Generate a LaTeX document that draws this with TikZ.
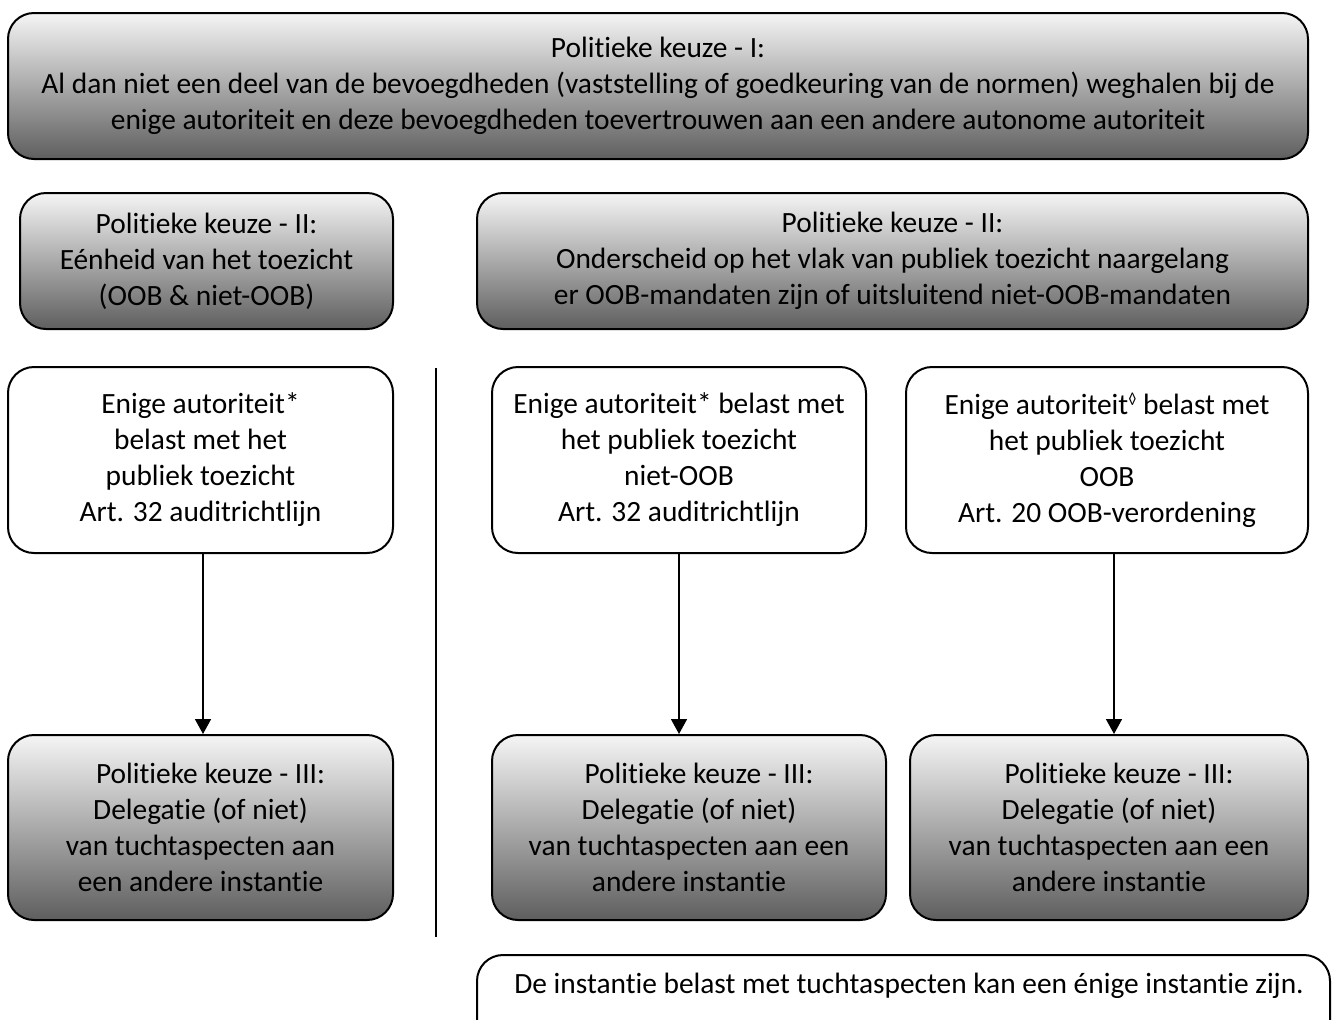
\documentclass[tikz,border=0pt]{standalone}
\usepackage{fontspec}
\setmainfont{Carlito}[Ligatures={NoCommon,NoContextual,NoRequired},Contextuals={NoAlternate},RawFeature={-liga;-clig;-calt}]
\usetikzlibrary{arrows.meta}
\begin{document}
\begin{tikzpicture}[x=0.5pt,y=-0.5pt,
  box/.style={draw=black, line width=1pt, rounded corners=13pt, align=center, inner sep=0pt,
    font=\fontsize{14.7}{18}\selectfont},
  graybox/.style={box, top color=white!96!black, bottom color=black!63},
  whitebox/.style={box, fill=white},
  conn/.style={-{Triangle[width=8pt,length=7.5pt]}, line width=0.8pt}]
\useasboundingbox (0,0) rectangle (1333,1019);
\clip (0,0) rectangle (1333,1019);

\node[graybox, minimum width=650pt, minimum height=73pt] (top) at (658,86)
  {Politieke keuze - I:\\
   Al dan niet een deel van de bevoegdheden (vaststelling of goedkeuring van de normen) weghalen bij de\\
   enige autoriteit en deze bevoegdheden toevertrouwen aan een andere autonome autoriteit};

\node[graybox, minimum width=186.5pt, minimum height=68pt] (iil) at (206.5,261)
  {Politieke keuze - II:\\ Eénheid van het toezicht\\ (OOB \& niet-OOB)};
\node[graybox, minimum width=415.5pt, minimum height=68pt] (iir) at (892.5,261)
  {Politieke keuze - II:\\ Onderscheid op het vlak van publiek toezicht naargelang\\
   er OOB-mandaten zijn of uitsluitend niet-OOB-mandaten};

\node[whitebox, minimum width=192.5pt, minimum height=93pt] (wl) at (200.5,460)
  {Enige autoriteit*\\ belast met het\\ publiek toezicht\\ Art. 32 auditrichtlijn};
\node[whitebox, minimum width=187pt, minimum height=93pt] (wm) at (679,460)
  {Enige autoriteit* belast met\\ het publiek toezicht\\ niet-OOB\\ Art. 32 auditrichtlijn};
\node[whitebox, minimum width=201pt, minimum height=93pt] (wr) at (1107,460)
  {Enige autoriteit\raisebox{5pt}{\fontsize{8}{8}\selectfont\char"25CA} belast met\\ het publiek toezicht\\ OOB\\ Art. 20 OOB-verordening};

\node[graybox, minimum width=192.5pt, minimum height=92.5pt] (gl) at (200.5,827.5)
  {\hspace*{10pt}Politieke keuze - III:\\ Delegatie (of niet)\\ van tuchtaspecten aan\\ een andere instantie};
\node[graybox, minimum width=197pt, minimum height=92.5pt] (gm) at (689,827.5)
  {\hspace*{10pt}Politieke keuze - III:\\ Delegatie (of niet)\\ van tuchtaspecten aan een\\ andere instantie};
\node[graybox, minimum width=199pt, minimum height=92.5pt] (gr) at (1109,827.5)
  {\hspace*{10pt}Politieke keuze - III:\\ Delegatie (of niet)\\ van tuchtaspecten aan een\\ andere instantie};

\node[whitebox, minimum width=426.5pt, minimum height=47.5pt] (note) at (903.5,1002.5) {};
\node[font=\fontsize{14.7}{18}\selectfont, inner sep=0pt] (notetext) at (909,986)
  {De instantie belast met tuchtaspecten kan een énige instantie zijn.};

\coordinate (vtop) at (436,368);
\coordinate (vbot) at (436,937);
\draw[line width=0.8pt] (vtop) -- (vbot);

\draw[conn] ([xshift=1.25pt]wl.south) -- ([xshift=1.25pt]gl.north);
\draw[conn] (wm.south) -- (wm.south |- gm.north);
\draw[conn] ([xshift=3.5pt]wr.south) -- ([xshift=2.5pt]gr.north);
\end{tikzpicture}
\end{document}
